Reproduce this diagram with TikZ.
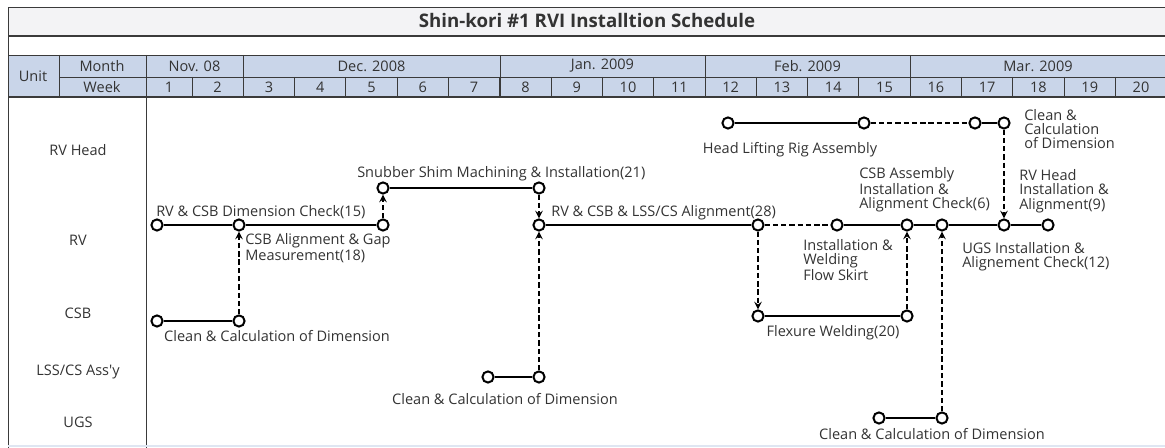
\documentclass[tikz,border=0pt]{standalone}
\usepackage{fontspec}
\setmainfont{Open Sans}[Ligatures=TeXOff]
\definecolor{hdrblue}{HTML}{C9D5E9}
\definecolor{ttlgray}{HTML}{F3F3F5}
\definecolor{inkgray}{HTML}{333333}
\definecolor{gridgray}{HTML}{3A3A3A}
\begin{document}
\begin{tikzpicture}[x=0.75pt, y=-0.75pt, font=\fontsize{10.9}{10.7}\selectfont, text=inkgray, >=stealth,
  ev/.style={circle, draw=black, fill=white, line width=1.5pt, inner sep=0pt, minimum size=8.4pt},
  lbl/.style={inner sep=0pt, align=left},
  cell/.style={inner sep=0pt},
  grid/.style={draw=gridgray, line width=0.7pt},
  mainbar/.style={line width=2.1pt},
  subbar/.style={line width=1.5pt},
  lag/.style={dashed, dash pattern=on 4pt off 2.2pt, line width=1.5pt},
  link/.style={->, dashed, dash pattern=on 4pt off 2.2pt, line width=1.5pt}]
\useasboundingbox (0,0) rectangle (1165,448);
% table frame
\fill[ttlgray] (8,7) rectangle (1165,36);
\fill[hdrblue] (8,55) rectangle (1165,97);
\draw[grid] (1165,7) -- (8,7) -- (8,448);
\draw[grid, line width=1pt] (8,36) -- (1165,36);
\draw[grid] (8,55) -- (1165,55); \draw[grid] (59,77) -- (1165,77); \draw[grid, line width=1pt] (8,97) -- (1165,97);
\draw[grid] (59,55) -- (59,97); \draw[grid] (146,55) -- (146,448);
\foreach \m in {243.3,500,705.2,910.4} \draw[grid] (\m,55) -- (\m,97);
\foreach \w in {1,...,19} \draw[grid] ({192+(\w-1)*51.3},77) -- ({192+(\w-1)*51.3},97);
\draw[hdrblue!60, line width=1pt] (8,446) -- (1165,446);
\node[cell, font=\fontsize{14}{15}\selectfont\bfseries] (title) at (587,21) {Shin-kori \#1 RVI Installtion Schedule};
\node[cell] (unit) at (33,76) {Unit};
\node[cell] (month) at (102,66) {Month};
\node[cell] (week) at (102,87) {Week};
\node[cell] (nov) at (194.5,66) {Nov. 08};
\node[cell] (dec) at (371.5,66) {Dec. 2008};
\node[cell] (jan) at (602.5,66) {Jan. 2009};
\node[cell] (feb) at (807.5,66) {Feb. 2009};
\node[cell] (mar) at (1038,66) {Mar. 2009};
\node[cell] (wk1) at (169,87) {1};
\foreach \w in {2,...,20} \node[cell] (wk\w) at ({192+(\w-1.5)*51.3},87) {\w};
\node[cell] (uhead) at (78,150) {RV Head};
\node[cell] (urv) at (78,240) {RV};
\node[cell] (ucsb) at (78,313) {CSB};
\node[cell] (ulss) at (78,372) {LSS/CS Ass'y};
\node[cell] (uugs) at (78,422) {UGS};
% events
\node[ev] (r1) at (157,225) {}; \node[ev] (r2) at (239,225) {}; \node[ev] (r3) at (383,225) {};
\node[ev] (s1) at (383,188) {}; \node[ev] (s2) at (539,188) {};
\node[ev] (r4) at (539,225) {}; \node[ev] (r5) at (758,225) {}; \node[ev] (r6) at (837,225) {};
\node[ev] (r7) at (907,225) {}; \node[ev] (r8) at (942,225) {}; \node[ev] (r9) at (1004,225) {};
\node[ev] (r10) at (1048,225) {};
\node[ev] (h1) at (728,123) {}; \node[ev] (h2) at (864,123) {}; \node[ev] (h3) at (975,123) {};
\node[ev] (h4) at (1004,123) {};
\node[ev] (c1) at (157,321) {}; \node[ev] (c2) at (239,321) {};
\node[ev] (l1) at (488,377) {}; \node[ev] (l2) at (539,377) {};
\node[ev] (f1) at (758,316) {}; \node[ev] (f2) at (907,316) {};
\node[ev] (u1) at (879,418) {}; \node[ev] (u2) at (942,418) {};
% labels
\node[lbl, anchor=west] (tdim) at (156,212) {RV \& CSB Dimension Check(15)};
\node[lbl, anchor=north west] (tgap) at (245,233) {CSB Alignment \& Gap\\[1.5pt]Measurement(18)};
\node[lbl, anchor=west] (tshim) at (357,174) {Snubber Shim Machining \& Installation(21)};
\node[lbl, anchor=west] (talign) at (551,213) {RV \& CSB \& LSS/CS Alignment(28)};
\node[lbl, anchor=north west] (tskirt) at (803,239) {Installation \&\\Welding\\Flow Skirt};
\node[lbl, anchor=west] (tcsbas) at (859,190) {CSB Assembly\\Installation \&\\Alignment Check(6)};
\node[lbl, anchor=west] (theadin) at (1019,191) {RV Head\\Installation \&\\Alignment(9)};
\node[lbl, anchor=west] (tugsin) at (962,257) {UGS Installation \&\\Alignement Check(12)};
\node[lbl] (trig) at (790,150) {Head Lifting Rig Assembly};
\node[lbl, anchor=west] (thclean) at (1024,129) {Clean \&\\Calculation\\of Dimension};
\node[lbl] (tcclean) at (277,336) {Clean \& Calculation of Dimension};
\node[lbl] (tlclean) at (505,399) {Clean \& Calculation of Dimension};
\node[lbl] (tflex) at (833,333) {Flexure Welding(20)};
\node[lbl] (tuclean) at (932,434) {Clean \& Calculation of Dimension};
% bars
\draw[mainbar] (r1) -- (r2); \draw[mainbar] (r2) -- (r3); \draw[mainbar] (s1) -- (s2); \draw[mainbar] (r4) -- (r5);
\draw[mainbar] (r6) -- (r7); \draw[mainbar] (r7) -- (r8); \draw[mainbar] (r8) -- (r9); \draw[mainbar] (r9) -- (r10);
\draw[mainbar] (f1) -- (f2); \draw[subbar] (h1) -- (h2); \draw[subbar] (h3) -- (h4);
\draw[subbar] (c1) -- (c2); \draw[subbar] (l1) -- (l2); \draw[subbar] (u1) -- (u2);
\draw[lag] (r5) -- (r6); \draw[lag] (h2) -- (h3);
% dependencies
\draw[link] (c2) -- (r2); \draw[link] (r3) -- (s1); \draw[link] (s2) -- (r4); \draw[link] (l2) -- (r4);
\draw[link] (r5) -- (f1); \draw[link] (f2) -- (r7); \draw[link] (u2) -- (r8); \draw[link] (h4) -- (r9);
\end{tikzpicture}
\end{document}
